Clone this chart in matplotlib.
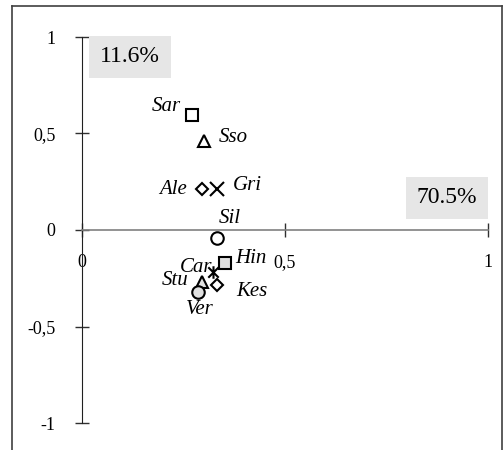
import matplotlib
matplotlib.use("Agg")
import matplotlib.pyplot as plt
from matplotlib.path import Path
from matplotlib.lines import Line2D
import numpy as np

plt.rcParams['font.family'] = ['Liberation Serif', 'DejaVu Serif']

# point names and coordinates
names = ['Sar', 'Sso', 'Ale', 'Gri', 'Sil', 'Hin', 'Car', 'Stu', 'Kes', 'Ver']
x_vals = [0.271, 0.300, 0.296, 0.333, 0.333, 0.352, 0.323, 0.296, 0.333, 0.286]
y_vals = [0.596, 0.461, 0.212, 0.212, -0.041, -0.171, -0.218, -0.269, -0.285, -0.321]

# explained variance labels
pct_y = '11.6%'
pct_x = '70.5%'

x_ticks = [0, 0.5, 1]
x_ticklabels = ['0', '0,5', '1']
y_ticks = [-1, -0.5, 0, 0.5, 1]
y_ticklabels = ['-1', '-0,5', '0', '0,5', '1']

# excel-like star marker: x with a vertical bar
star = Path([(-1, -1), (1, 1), (-1, 1), (1, -1), (0, -1.2), (0, 1.2)],
            [Path.MOVETO, Path.LINETO, Path.MOVETO, Path.LINETO, Path.MOVETO, Path.LINETO])

gray = '#e0e0e0'
styles = {
    'Sar': dict(marker='s', fc='white', ms=9),
    'Sso': dict(marker='^', fc='white', ms=9),
    'Ale': dict(marker='D', fc='white', ms=6.5),
    'Gri': dict(marker='x', fc='none', ms=9.5),
    'Sil': dict(marker='o', fc='white', ms=9),
    'Hin': dict(marker='s', fc=gray, ms=9),
    'Car': dict(marker=star, fc='none', ms=9),
    'Stu': dict(marker='^', fc=gray, ms=9),
    'Kes': dict(marker='D', fc='white', ms=6.5),
    'Ver': dict(marker='o', fc=gray, ms=9),
}
# label offsets in pixels from the marker
offsets = {
    'Sar': (-26, 8), 'Sso': (30, 4), 'Ale': (-29, 0), 'Gri': (30, 4),
    'Sil': (13, 19), 'Hin': (26, 5), 'Car': (-17, 5), 'Stu': (-27, 1),
    'Kes': (35, -6), 'Ver': (2, -18),
}

W, H = 503, 450
fig = plt.figure(figsize=(W / 100, H / 100), dpi=100)
ax = fig.add_axes([82 / W, 1 - 423 / H, (488 - 82) / W, (423 - 37) / H])
ax.set_xlim(0, 1)
ax.set_ylim(-1, 1)

for n, x, y in zip(names, x_vals, y_vals):
    s = styles[n]
    ax.plot(x, y, linestyle='none', marker=s['marker'], markersize=s['ms'],
            markerfacecolor=s['fc'], markeredgecolor='black', markeredgewidth=1.5,
            zorder=3)
    ax.annotate(n, (x, y), xytext=offsets[n], textcoords='offset pixels',
                ha='center', va='center', fontsize=15, style='italic', zorder=4)

# axes through origin
for side in ['top', 'right']:
    ax.spines[side].set_visible(False)
ax.spines['left'].set_position(('data', 0))
ax.spines['bottom'].set_position(('data', 0))
ax.spines['left'].set_color('#202020')
ax.spines['bottom'].set_color('#808080')
ax.spines['bottom'].set_linewidth(1.2)

ax.set_xticks(x_ticks)
ax.set_xticklabels(x_ticklabels)
ax.set_yticks(y_ticks)
ax.set_yticklabels(y_ticklabels)
ax.tick_params(axis='both', direction='inout', length=10, width=1, color='#303030',
               labelsize=13)
ax.tick_params(axis='x', pad=12)
ax.tick_params(axis='y', pad=14)
ax.patch.set_alpha(0)

# gray percentage boxes
box = dict(boxstyle='square,pad=0.45', fc='#e6e6e6', ec='none')
fig.text(130 / W, 1 - 57 / H, pct_y, ha='center', va='center', fontsize=17, bbox=box)
fig.text(447 / W, 1 - 198 / H, pct_x, ha='center', va='center', fontsize=17, bbox=box)

# outer frame (left, top, right)
fc = '#404040'
fig.add_artist(Line2D([12 / W, 12 / W], [0, 1 - 6 / H], color=fc, lw=1.2))
fig.add_artist(Line2D([12 / W, 501.5 / W], [1 - 6 / H, 1 - 6 / H], color=fc, lw=1.2))
fig.add_artist(Line2D([501.5 / W, 501.5 / W], [0, 1 - 6 / H], color=fc, lw=1.2))

fig.savefig('out.png', dpi=100)
